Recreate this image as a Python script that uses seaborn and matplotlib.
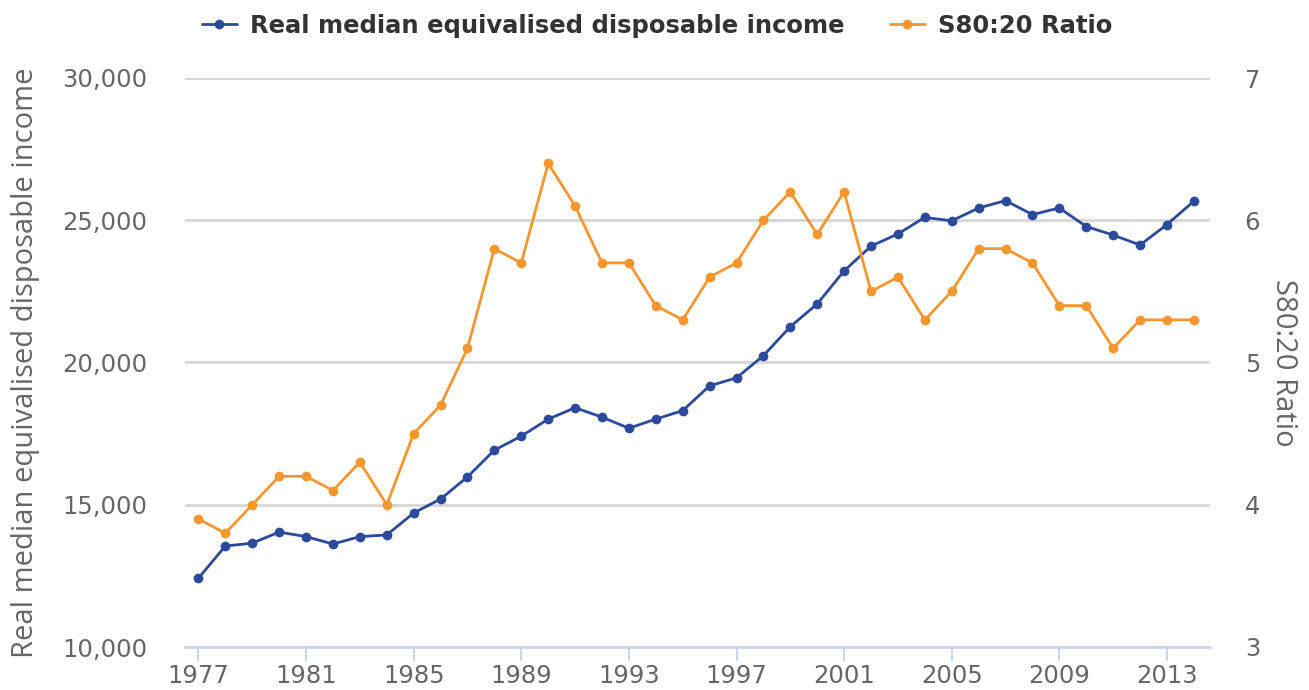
import pandas as pd
import matplotlib
matplotlib.use("Agg")
import matplotlib.pyplot as plt
import seaborn as sns
from matplotlib.lines import Line2D
from matplotlib.ticker import FuncFormatter

years = list(range(1977, 2015))
income = [12420, 13550, 13650, 14040, 13880, 13620, 13880, 13940, 14710, 15200,
          15980, 16920, 17410, 18010, 18410, 18080, 17690, 18010, 18310, 19180,
          19460, 20240, 21260, 22060, 23220, 24090, 24520, 25100, 24980, 25430,
          25690, 25200, 25430, 24780, 24480, 24130, 24850, 25670]
ratio = [3.9, 3.8, 4.0, 4.2, 4.2, 4.1, 4.3, 4.0, 4.5, 4.7,
         5.1, 5.8, 5.7, 6.4, 6.1, 5.7, 5.7, 5.4, 5.3, 5.6,
         5.7, 6.0, 6.2, 5.9, 6.2, 5.5, 5.6, 5.3, 5.5, 5.8,
         5.8, 5.7, 5.4, 5.4, 5.1, 5.3, 5.3, 5.3]
xticks = list(range(1977, 2014, 4))

df = pd.DataFrame({"year": years, "income": income, "ratio": ratio})

blue = "#2b4a9b"
orange = "#f5962f"
grey_text = "#666666"

sns.set_style("white")
fig = plt.figure(figsize=(13.09, 6.9), dpi=100)
ax = fig.add_axes([185 / 1309, 1 - 647 / 690, (1210 - 185) / 1309, (647 - 78) / 690])
ax2 = ax.twinx()

sns.lineplot(data=df, x="year", y="income", ax=ax, color=blue, lw=2,
             marker="o", markersize=7, markeredgewidth=0, zorder=3)
sns.lineplot(data=df, x="year", y="ratio", ax=ax2, color=orange, lw=2,
             marker="o", markersize=7, markeredgewidth=0, zorder=3)

ax.set_xlim(1976.5, 2014.6)
ax.set_ylim(10000, 30000)
ax2.set_ylim(3, 7)
ax.set_yticks([10000, 15000, 20000, 25000, 30000])
ax2.set_yticks([3, 4, 5, 6, 7])
ax.set_xticks(xticks)
ax.yaxis.set_major_formatter(FuncFormatter(lambda v, p: f"{int(v):,}"))

ax.grid(axis="y", color="#d6d6d6", lw=2)
ax.set_axisbelow(True)
for a in (ax, ax2):
    for s in ("top", "left", "right", "bottom"):
        a.spines[s].set_visible(False)
ax.spines["bottom"].set_visible(True)
ax.spines["bottom"].set_color("#ccd6eb")
ax.spines["bottom"].set_linewidth(2)

ax.tick_params(axis="x", length=10, width=1.5, color="#ccd6eb", labelsize=17.5,
               labelcolor=grey_text, pad=2, bottom=True)
ax.tick_params(axis="y", length=0, labelsize=17.5, labelcolor=grey_text, pad=27)
ax2.tick_params(axis="y", length=0, labelsize=17.5, labelcolor=grey_text, pad=25)

ax.set_xlabel("")
ax.set_ylabel("Real median equivalised disposable income", fontsize=21,
              color=grey_text, family="Open Sans", labelpad=16)
ax2.set_ylabel("S80:20 Ratio", fontsize=21, color=grey_text, family="Open Sans",
               rotation=270, labelpad=27)

handles = [Line2D([], [], color=blue, lw=2, marker="o", markersize=7, markeredgewidth=0),
           Line2D([], [], color=orange, lw=2, marker="o", markersize=7, markeredgewidth=0)]
leg = fig.legend(handles, ["Real median equivalised disposable income", "S80:20 Ratio"],
                 loc="upper center", bbox_to_anchor=(0.502, 1.012), ncol=2, frameon=False,
                 prop={"size": 17.5, "weight": "bold"}, handlelength=1.45, columnspacing=1.85,
                 handletextpad=0.55)
for t in leg.get_texts():
    t.set_color("#333333")

fig.savefig("out.png", dpi=100)
